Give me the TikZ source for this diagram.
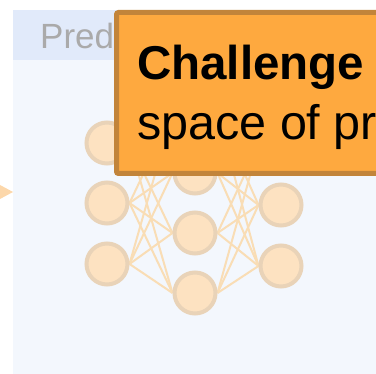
\documentclass[tikz,border=0pt]{standalone}
\usepackage{fontspec}
\setmainfont{Liberation Sans}
\usepackage{xcolor}
\usepackage{tikz}
\usetikzlibrary{positioning, backgrounds}
\definecolor{panel}{HTML}{F3F7FD}
\definecolor{header}{HTML}{E1EAFA}
\definecolor{faint}{HTML}{AAAAAA}
\definecolor{callout}{HTML}{FEA93F}
\definecolor{calloutedge}{HTML}{C2843A}
\definecolor{neuron}{HTML}{FDE2C1}
\definecolor{neuronedge}{HTML}{E9D3B8}
\definecolor{synapse}{HTML}{F9DDB5}
\definecolor{inflow}{HTML}{FCD7AA}

\begin{document}
\begin{tikzpicture}[
    x=1pt, y=-1pt,
    unit/.style={circle, draw=neuronedge, line width=4pt, fill=neuron, minimum size=41pt, inner sep=0pt},
    wire/.style={draw=synapse, line width=2pt},
    heading/.style={font=\fontsize{35}{42}\selectfont, text=faint, inner sep=0pt},
    note/.style={font=\fontsize{48.5}{59}\selectfont, inner sep=0pt},
]
\useasboundingbox (0,0) rectangle (376,374);
\clip (0,0) rectangle (376,374);

% network
\node[unit] (in1) at (107,143) {};
\node[unit] (in2) at (107,203) {};
\node[unit] (in3) at (107,264) {};
\node[unit] (hid1) at (195,113) {};
\node[unit] (hid2) at (195,173) {};
\node[unit] (hid3) at (195,233) {};
\node[unit] (hid4) at (195,293) {};
\node[unit] (out1) at (281,145) {};
\node[unit] (out2) at (281,205) {};
\node[unit] (out3) at (281,266) {};

\begin{pgfonlayer}{background}
% panel
\fill[panel] (13,10) rectangle (376,374);
\fill[header] (13,10) rectangle (376,60);
\foreach \i in {1,2,3}
  \foreach \h in {1,2,3,4} {
    \draw[wire] (in\i.east) -- (hid\h.west);
    \draw[wire] (hid\h.east) -- (out\i.west);
  }
\end{pgfonlayer}
\node[heading, anchor=base west] (title) at (40,49) {Pred};

% incoming arrow tip
\coordinate (entry) at (13,192);
\fill[inflow] (0,185) -- (entry) -- (0,199) -- cycle;

% callout
\draw[fill=callout, draw=calloutedge, line width=5pt, rounded corners=2pt]
  (116.5,12.5) rectangle (420,173.5);
\node[note, anchor=base west, font=\fontsize{47.5}{59}\selectfont\bfseries] (challenge) at (137,80) {Challenge};
\node[note, anchor=base west] (space) at ([yshift=-60pt]challenge.base west) {space of pr};
\end{tikzpicture}
\end{document}
